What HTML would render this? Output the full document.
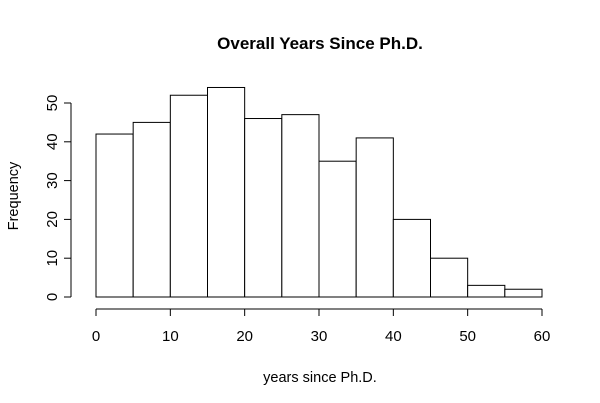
<!DOCTYPE html>
<html>
<head>
<meta charset="utf-8">
<style>
html,body{margin:0;padding:0;background:#fff;}
svg{display:block;}
text{font-family:"Liberation Sans",Arial,sans-serif;fill:#000;}
</style>
</head>
<body>
<svg id="chart" width="600" height="403" viewBox="0 0 600 403">
  <text x="320" y="49" text-anchor="middle" font-size="17" font-weight="bold">Overall Years Since Ph.D.</text>
  <text x="320" y="382" text-anchor="middle" font-size="14.5">years since Ph.D.</text>
  <text x="18" y="196" text-anchor="middle" font-size="14.5" transform="rotate(-90 18 196)">Frequency</text>
  <g id="bars"></g>
  <g id="xaxis"></g>
  <g id="yaxis"></g>
</svg>
<script>
const binStarts = [0,5,10,15,20,25,30,35,40,45,50,55];
const binWidth = 5;
const counts = [42,45,52,54,46,47,35,41,20,10,3,2];
const xTicks = [0,10,20,30,40,50,60];
const yTicks = [0,10,20,30,40,50];

const NS = "http://www.w3.org/2000/svg";
function xs(v){ return 96 + v * (542-96)/60; }
function ys(v){ return 297 - v * (297-103)/50; }
function mk(tag, attrs, parent){
  const e = document.createElementNS(NS, tag);
  for (const k in attrs) e.setAttribute(k, attrs[k]);
  parent.appendChild(e);
  return e;
}
const bars = document.getElementById('bars');
counts.forEach((c,i)=>{
  const x0 = xs(binStarts[i]), x1 = xs(binStarts[i]+binWidth);
  const r = mk('rect',{x:x0,y:ys(c),width:x1-x0,height:ys(0)-ys(c),fill:'#fff',stroke:'#000','stroke-width':1},bars);
  
  
});
const xa = document.getElementById('xaxis');
mk('line',{x1:xs(xTicks[0]),x2:xs(xTicks[xTicks.length-1]),y1:309,y2:309,stroke:'#000'},xa);
xTicks.forEach(t=>{
  mk('line',{x1:xs(t),x2:xs(t),y1:309,y2:316,stroke:'#000'},xa);
  const tx = mk('text',{x:xs(t),y:341,'text-anchor':'middle','font-size':15},xa);
  tx.textContent = t;
  
  
});
const ya = document.getElementById('yaxis');
mk('line',{x1:71,x2:71,y1:ys(yTicks[0]),y2:ys(yTicks[yTicks.length-1]),stroke:'#000'},ya);
yTicks.forEach(t=>{
  mk('line',{x1:64,x2:71,y1:ys(t),y2:ys(t),stroke:'#000'},ya);
  const tx = mk('text',{x:57,y:ys(t),'text-anchor':'middle','font-size':15,transform:`rotate(-90 57 ${ys(t)})`},ya);
  tx.textContent = t;
  
  
});
</script>
</body>
</html>
